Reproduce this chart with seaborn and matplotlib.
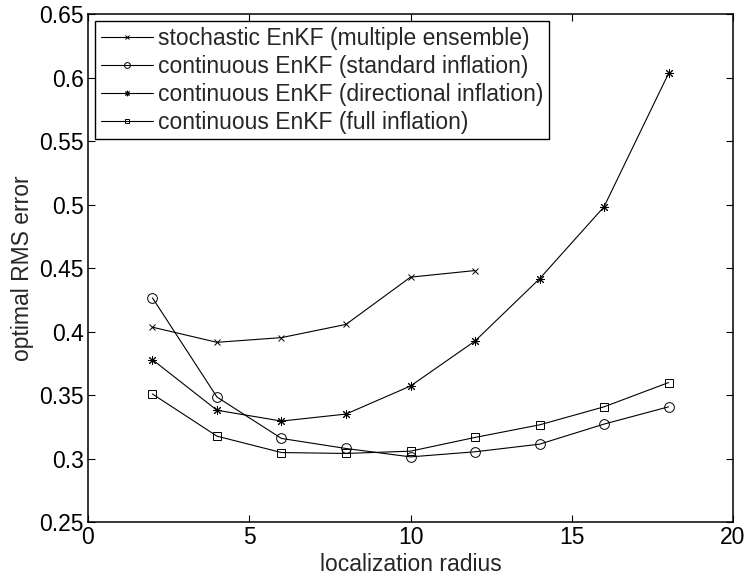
import numpy as np
import pandas as pd
import matplotlib
matplotlib.use("Agg")
import matplotlib.pyplot as plt
import seaborn as sns

# data
radius_stoch = [2, 4, 6, 8, 10, 12]
rms_stoch = [0.4034, 0.3915, 0.3952, 0.4056, 0.4428, 0.4480]

radius = [2, 4, 6, 8, 10, 12, 14, 16, 18]
rms_standard = [0.4265, 0.3484, 0.3158, 0.3079, 0.3013, 0.3053, 0.3113, 0.3271, 0.3407]
rms_directional = [0.3778, 0.3380, 0.3295, 0.3350, 0.3571, 0.3925, 0.4415, 0.4982, 0.6032]
rms_full = [0.3508, 0.3176, 0.3047, 0.3040, 0.3058, 0.3166, 0.3265, 0.3407, 0.3598]

labels = [
    "stochastic EnKF (multiple ensemble)",
    "continuous EnKF (standard inflation)",
    "continuous EnKF (directional inflation)",
    "continuous EnKF (full inflation)",
]
xticks = [0, 5, 10, 15, 20]
yticks = [0.25, 0.3, 0.35, 0.4, 0.45, 0.5, 0.55, 0.6, 0.65]
yticklabels = ["0.25", "0.3", "0.35", "0.4", "0.45", "0.5", "0.55", "0.6", "0.65"]

fs = 16.5
sns.set_style("ticks")
plt.rcParams["font.family"] = ["Liberation Sans", "DejaVu Sans"]
plt.rcParams["font.size"] = fs

fig = plt.figure(figsize=(7.48, 5.76), dpi=100)
ax = fig.add_axes([0.1176, 0.0937, 0.8624, 0.882])

series = [
    (radius_stoch, rms_stoch, dict(marker="x", markersize=5)),
    (radius, rms_standard, dict(marker="o", markersize=7, markerfacecolor="none")),
    (radius, rms_directional, dict(marker=(8, 2, 0), markersize=6.5)),
    (radius, rms_full, dict(marker="s", markersize=5.5, markerfacecolor="none")),
]
for (xs, ys, mk), lab in zip(series, labels):
    sns.lineplot(x=xs, y=ys, ax=ax, color="k", linewidth=0.8,
                 markeredgecolor="k", markeredgewidth=0.7, label=lab, **mk)

ax.set_xlim(0, 20)
ax.set_ylim(0.25, 0.65)
ax.set_xticks(xticks)
ax.set_yticks(yticks)
ax.set_yticklabels(yticklabels)
ax.set_xlabel("localization radius", labelpad=3)
ax.set_ylabel("optimal RMS error", labelpad=4)

for sp in ax.spines.values():
    sp.set_visible(True)
    sp.set_linewidth(1.1)
    sp.set_color("k")
ax.tick_params(direction="in", length=5, width=0.8, top=True, right=True,
               labelsize=fs, colors="k", pad=3)

leg = ax.legend(loc="upper left", borderaxespad=0.3, fancybox=False,
                edgecolor="k", framealpha=1, fontsize=fs, handlelength=2.3,
                handletextpad=0.2, labelspacing=0.22, borderpad=0.25,
                markerscale=0.6)
leg.get_frame().set_linewidth(1.0)

fig.savefig("out.png", dpi=100)
